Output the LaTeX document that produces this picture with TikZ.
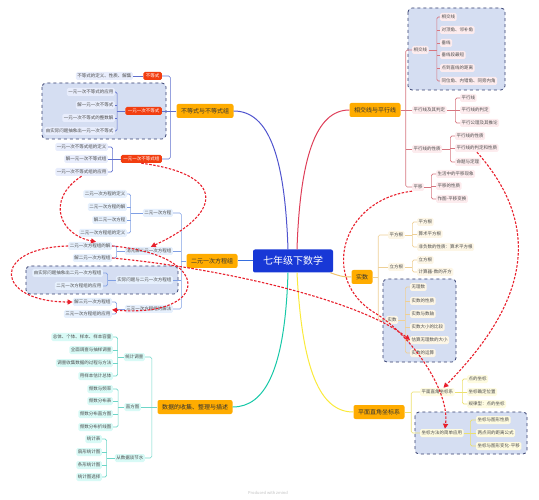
\documentclass[tikz,border=0pt]{standalone}
\usepackage{fontspec}
\setmainfont{Noto Sans CJK SC}
\usetikzlibrary{arrows.meta}
\definecolor{rootblue}{RGB}{24,56,214}
\definecolor{topicorg}{RGB}{255,172,0}
\definecolor{subred}{RGB}{242,62,16}
\definecolor{bdline}{RGB}{96,112,206}
\definecolor{bdfill}{RGB}{232,237,252}
\definecolor{eyline}{RGB}{128,160,228}
\definecolor{eyfill}{RGB}{230,240,253}
\definecolor{sjline}{RGB}{110,214,200}
\definecolor{sjfill}{RGB}{216,250,246}
\definecolor{xjline}{RGB}{214,118,128}
\definecolor{xjfill}{RGB}{253,236,238}
\definecolor{ssline}{RGB}{238,208,150}
\definecolor{ssfill}{RGB}{253,246,230}
\definecolor{zbline}{RGB}{236,224,110}
\definecolor{zbfill}{RGB}{254,251,224}
\definecolor{grpline}{RGB}{52,62,110}
\definecolor{grpfill}{RGB}{213,222,242}
\definecolor{jumpred}{RGB}{232,32,44}
\definecolor{brA}{RGB}{80,84,206}
\definecolor{brB}{RGB}{222,62,88}
\definecolor{brC}{RGB}{54,110,222}
\definecolor{brD}{RGB}{240,196,110}
\definecolor{brE}{RGB}{24,200,168}
\definecolor{brF}{RGB}{250,234,60}
\tikzset{
  rootbox/.style={rectangle, rounded corners=2pt, fill=rootblue, text=white, font=\fontsize{10}{12}\selectfont, minimum width=80pt, minimum height=23pt, inner sep=0pt},
  topic/.style={rectangle, rounded corners=2pt, fill=topicorg, text=black!80, font=\fontsize{6}{7}\selectfont, minimum height=14pt, inner xsep=4.5pt, inner ysep=0pt},
  redsub/.style={rectangle, rounded corners=1.5pt, fill=subred, text=white, font=\fontsize{4.5}{5}\selectfont, minimum height=8pt, inner xsep=2.5pt, inner ysep=0pt},
  leaf/.style={rectangle, rounded corners=1.5pt, text=black!70, font=\fontsize{4.5}{5}\selectfont, minimum height=8pt, inner xsep=1.5pt, inner ysep=0pt},
  bdleaf/.style={leaf, fill=bdfill},
  eyleaf/.style={leaf, fill=eyfill},
  sjleaf/.style={leaf, fill=sjfill},
  xjleaf/.style={leaf, fill=xjfill},
  ssleaf/.style={leaf, fill=ssfill},
  zbleaf/.style={leaf, fill=zbfill},
  grpbox/.style={draw=grpline, fill=grpfill, dashed, line width=0.8pt, rounded corners=4pt},
  bran/.style={line width=1pt},
  lk/.style={line width=0.6pt, rounded corners=1.5pt},
  jump/.style={draw=jumpred, line width=1.1pt, dash pattern=on 2.5pt off 1.5pt, -{Triangle[length=5pt,width=5pt]}}
}
\begin{document}
\begin{tikzpicture}[x=1pt,y=-1pt]
  \useasboundingbox (0,0) rectangle (539,500);

  % dashed groups
  \path[grpbox] (42,83) rectangle (166,139);
  \path[grpbox] (26,266) rectangle (178,294);
  \path[grpbox] (408,8) rectangle (505,90);
  \path[grpbox] (383,279) rectangle (456,362);
  \path[grpbox] (415,412) rectangle (527,454);

  \node[rootbox] (root) at (293,261) {七年级下数学};

  % 不等式与不等式组
  \node[topic] (bdz) at (205,111) {不等式与不等式组};
  \node[redsub, anchor=east] (bd1) at (162,76) {不等式};
  \node[redsub, anchor=east] (bd2) at (162,111) {一元一次不等式};
  \node[redsub, anchor=east] (bd3) at (162,159) {一元一次不等式组};
  \node[bdleaf, anchor=east] (bd11) at (133,76) {不等式的定义、性质、解集};
  \node[bdleaf, anchor=east] (bd21) at (115,92) {一元一次不等式的应用};
  \node[bdleaf, anchor=east] (bd22) at (115,105) {解一元一次不等式};
  \node[bdleaf, anchor=east] (bd23) at (115,118) {一元一次不等式的整数解};
  \node[bdleaf, anchor=east] (bd24) at (115,131) {由实际问题抽象出一元一次不等式};
  \node[bdleaf, anchor=east] (bd31) at (108,147) {一元一次不等式组的定义};
  \node[bdleaf, anchor=east] (bd32) at (108,159) {解一元一次不等式组};
  \node[bdleaf, anchor=east] (bd33) at (108,172) {一元一次不等式组的应用};

  % 二元一次方程组
  \node[topic] (eyz) at (212,261) {二元一次方程组};
  \node[eyleaf, anchor=east] (ey1) at (173,213) {二元一次方程};
  \node[eyleaf, anchor=east] (ey2) at (173,251) {消元解二元一次方程组};
  \node[eyleaf, anchor=east] (ey3) at (173,280) {实际问题与二元一次方程组};
  \node[eyleaf, anchor=east] (ey4) at (173,309) {三元一次方程组的解法};
  \node[eyleaf, anchor=east] (ey11) at (127,194) {二元一次方程的定义};
  \node[eyleaf, anchor=east] (ey12) at (127,207) {二元一次方程的解};
  \node[eyleaf, anchor=east] (ey13) at (127,220) {解二元一次方程};
  \node[eyleaf, anchor=east] (ey14) at (127,233) {二元一次方程组的定义};
  \node[eyleaf, anchor=east] (ey21) at (112,246) {二元一次方程组的解};
  \node[eyleaf, anchor=east] (ey22) at (112,258) {解二元一次方程组};
  \node[eyleaf, anchor=east] (ey31) at (103,273) {由实际问题抽象出二元一次方程组};
  \node[eyleaf, anchor=east] (ey32) at (103,286) {二元一次方程组的应用};
  \node[eyleaf, anchor=east] (ey41) at (112,302) {解三元一次方程组};
  \node[eyleaf, anchor=east] (ey42) at (112,314) {三元一次方程组的应用};

  % 数据的收集、整理与描述
  \node[topic] (sjz) at (195,407) {数据的收集、整理与描述};
  \node[sjleaf, anchor=east] (sj1) at (145,357) {统计调查};
  \node[sjleaf, anchor=east] (sj2) at (141,407) {直方图};
  \node[sjleaf, anchor=east] (sj3) at (145,458) {从数据谈节水};
  \node[sjleaf, anchor=east] (sj11) at (113,337) {总体、个体、样本、样本容量};
  \node[sjleaf, anchor=east] (sj12) at (113,350) {全面调查与抽样调查};
  \node[sjleaf, anchor=east] (sj13) at (113,363) {调查收集数据的过程与方法};
  \node[sjleaf, anchor=east] (sj14) at (113,376) {用样本估计总体};
  \node[sjleaf, anchor=east] (sj21) at (113,389) {频数与频率};
  \node[sjleaf, anchor=east] (sj22) at (113,401) {频数分布表};
  \node[sjleaf, anchor=east] (sj23) at (113,414) {频数分布直方图};
  \node[sjleaf, anchor=east] (sj24) at (113,427) {频数分布折线图};
  \node[sjleaf, anchor=east] (sj31) at (102,439) {统计表};
  \node[sjleaf, anchor=east] (sj32) at (102,452) {扇形统计图};
  \node[sjleaf, anchor=east] (sj33) at (102,465) {条形统计图};
  \node[sjleaf, anchor=east] (sj34) at (102,477) {统计图选择};

  % 相交线与平行线
  \node[topic] (xjz) at (375,110) {相交线与平行线};
  \node[xjleaf, anchor=west] (xj1) at (412,50) {相交线};
  \node[xjleaf, anchor=west] (xj2) at (412,110) {平行线及其判定};
  \node[xjleaf, anchor=west] (xj3) at (412,149) {平行线的性质};
  \node[xjleaf, anchor=west] (xj4) at (412,187) {平移};
  \node[xjleaf, anchor=west] (xj11) at (440,17) {相交线};
  \node[xjleaf, anchor=west] (xj12) at (440,30) {对顶角、邻补角};
  \node[xjleaf, anchor=west] (xj13) at (440,43) {垂线};
  \node[xjleaf, anchor=west] (xj14) at (440,55) {垂线段最短};
  \node[xjleaf, anchor=west] (xj15) at (440,68) {点到直线的距离};
  \node[xjleaf, anchor=west] (xj16) at (440,81) {同位角、内错角、同旁内角};
  \node[xjleaf, anchor=west] (xj21) at (460,98) {平行线};
  \node[xjleaf, anchor=west] (xj22) at (460,110) {平行线的判定};
  \node[xjleaf, anchor=west] (xj23) at (460,123) {平行公理及其推论};
  \node[xjleaf, anchor=west] (xj31) at (455,136) {平行线的性质};
  \node[xjleaf, anchor=west] (xj32) at (455,148) {平行线的判定和性质};
  \node[xjleaf, anchor=west] (xj33) at (455,162) {命题与定理};
  \node[xjleaf, anchor=west] (xj41) at (436,174) {生活中的平移现象};
  \node[xjleaf, anchor=west] (xj42) at (436,186) {平移的性质};
  \node[xjleaf, anchor=west] (xj43) at (436,199) {作图-平移变换};

  % 实数
  \node[topic] (ssz) at (362,277) {实数};
  \node[ssleaf, anchor=west] (ss1) at (388,235) {平方根};
  \node[ssleaf, anchor=west] (ss2) at (388,267) {立方根};
  \node[ssleaf, anchor=west] (ss3) at (386,320) {实数};
  \node[ssleaf, anchor=west] (ss11) at (417,222) {平方根};
  \node[ssleaf, anchor=west] (ss12) at (417,234) {算术平方根};
  \node[ssleaf, anchor=west] (ss13) at (417,247) {非负数的性质：算术平方根};
  \node[ssleaf, anchor=west] (ss21) at (417,260) {立方根};
  \node[ssleaf, anchor=west] (ss22) at (417,272) {计算器-数的开方};
  \node[ssleaf, anchor=west] (ss31) at (410,287) {无理数};
  \node[ssleaf, anchor=west] (ss32) at (410,301) {实数的性质};
  \node[ssleaf, anchor=west] (ss33) at (410,314) {实数与数轴};
  \node[ssleaf, anchor=west] (ss34) at (410,327) {实数大小的比较};
  \node[ssleaf, anchor=west] (ss35) at (410,340) {估算无理数的大小};
  \node[ssleaf, anchor=west] (ss36) at (410,353) {实数的运算};

  % 平面直角坐标系
  \node[topic] (zbz) at (379,412) {平面直角坐标系};
  \node[zbleaf, anchor=west] (zb1) at (420,392) {平面直角坐标系};
  \node[zbleaf, anchor=west] (zb2) at (420,433) {坐标方法的简单应用};
  \node[zbleaf, anchor=west] (zb11) at (467,379) {点的坐标};
  \node[zbleaf, anchor=west] (zb12) at (467,392) {坐标确定位置};
  \node[zbleaf, anchor=west] (zb13) at (467,404) {规律型：点的坐标};
  \node[zbleaf, anchor=west] (zb21) at (476,420) {坐标与图形性质};
  \node[zbleaf, anchor=west] (zb22) at (476,433) {两点间的距离公式};
  \node[zbleaf, anchor=west] (zb23) at (476,446) {坐标与图形变化-平移};

  \node[text=black!25, font=\fontsize{4}{5}\selectfont] (mark) at (268,493) {Produced with zmind};

  % main branches
  \draw[bran, brA] ([xshift=-5pt]root.north) .. controls (285,160) and (270,111) .. (bdz.east);
  \draw[bran, brB] ([xshift=4pt]root.north) .. controls (300,160) and (315,110) .. (xjz.west);
  \draw[bran, brC] (root.west) -- (eyz.east);
  \draw[bran, brD] ([xshift=-3pt]root.south east) .. controls (340,276) and (342,277) .. (ssz.west);
  \draw[bran, brE] ([xshift=-5pt]root.south) .. controls (285,370) and (265,407) .. (sjz.east);
  \draw[bran, brF] ([xshift=4pt]root.south) .. controls (302,370) and (320,412) .. (zbz.west);

  % brackets
  \draw[lk, bdline] (bdz.west) -- ++(-6,0) coordinate (kb0);
  \draw[lk, bdline] (bd1.east) -| (kb0) |- (bd3.east);
  \draw[lk, bdline] (bd2.east) -- (kb0);
  \draw[lk, bdline] (bd11.east) -- (bd1.west);
  \draw[lk, bdline] (bd2.west) -- ++(-8,0) coordinate (kb2);
  \draw[lk, bdline] (bd21.east) -| (kb2) |- (bd24.east);
  \draw[lk, bdline] (bd22.east) -- (bd22.east -| kb2) (bd23.east) -- (bd23.east -| kb2);
  \draw[lk, bdline] (bd3.west) -- ++(-8,0) coordinate (kb3);
  \draw[lk, bdline] (bd31.east) -| (kb3) |- (bd33.east);
  \draw[lk, bdline] (bd32.east) -- (kb3);

  \draw[lk, eyline] (eyz.west) -- ++(-5,0) coordinate (ke0);
  \draw[lk, eyline] (ey1.east) -| (ke0) |- (ey4.east);
  \draw[lk, eyline] (ey2.east) -- (ey2.east -| ke0) (ey3.east) -- (ey3.east -| ke0);
  \draw[lk, eyline] (ey1.west) -- ++(-12,0) coordinate (ke1);
  \draw[lk, eyline] (ey11.east) -| (ke1) |- (ey14.east);
  \draw[lk, eyline] (ey12.east) -- (ey12.east -| ke1) (ey13.east) -- (ey13.east -| ke1);
  \draw[lk, eyline] (ey2.west) -- ++(-8,0) coordinate (ke2);
  \draw[lk, eyline] (ey21.east) -| (ke2) |- (ey22.east);
  \draw[lk, eyline] (ey3.west) -- ++(-8,0) coordinate (ke3);
  \draw[lk, eyline] (ey31.east) -| (ke3) |- (ey32.east);
  \draw[lk, eyline] (ey4.west) -- ++(-8,0) coordinate (ke4);
  \draw[lk, eyline] (ey41.east) -| (ke4) |- (ey42.east);

  \draw[lk, sjline] (sjz.west) -- ++(-5.5,0) coordinate (ks0);
  \draw[lk, sjline] (sj1.east) -| (ks0) |- (sj3.east);
  \draw[lk, sjline] (sj2.east) -- (ks0);
  \draw[lk, sjline] (sj1.west) -- ++(-6,0) coordinate (ks1);
  \draw[lk, sjline] (sj11.east) -| (ks1) |- (sj14.east);
  \draw[lk, sjline] (sj12.east) -- (sj12.east -| ks1) (sj13.east) -- (sj13.east -| ks1);
  \draw[lk, sjline] (sj2.west) -- ++(-6,0) coordinate (ks2);
  \draw[lk, sjline] (sj21.east) -| (ks2) |- (sj24.east);
  \draw[lk, sjline] (sj22.east) -- (sj22.east -| ks2) (sj23.east) -- (sj23.east -| ks2);
  \draw[lk, sjline] (sj3.west) -- ++(-8,0) coordinate (ks3);
  \draw[lk, sjline] (sj31.east) -| (ks3) |- (sj34.east);
  \draw[lk, sjline] (sj32.east) -- (sj32.east -| ks3) (sj33.east) -- (sj33.east -| ks3);

  \draw[lk, xjline] (xjz.east) -- ++(5,0) coordinate (kx0);
  \draw[lk, xjline] (xj1.west) -| (kx0) |- (xj4.west);
  \draw[lk, xjline] (xj2.west) -- (kx0) (xj3.west) -- (xj3.west -| kx0);
  \draw[lk, xjline] (xj1.east) -- ++(8,0) coordinate (kx1);
  \draw[lk, xjline] (xj11.west) -| (kx1) |- (xj16.west);
  \draw[lk, xjline] (xj12.west) -- (xj12.west -| kx1) (xj13.west) -- (xj13.west -| kx1)
    (xj14.west) -- (xj14.west -| kx1) (xj15.west) -- (xj15.west -| kx1);
  \draw[lk, xjline] (xj2.east) -- ++(8.5,0) coordinate (kx2);
  \draw[lk, xjline] (xj21.west) -| (kx2) |- (xj23.west);
  \draw[lk, xjline] (xj22.west) -- (kx2);
  \draw[lk, xjline] (xj3.east) -- ++(8,0) coordinate (kx3);
  \draw[lk, xjline] (xj31.west) -| (kx3) |- (xj33.west);
  \draw[lk, xjline] (xj32.west) -- (xj32.west -| kx3);
  \draw[lk, xjline] (xj4.east) -- ++(7,0) coordinate (kx4);
  \draw[lk, xjline] (xj41.west) -| (kx4) |- (xj43.west);
  \draw[lk, xjline] (xj42.west) -- (xj42.west -| kx4);

  \draw[lk, ssline] (ssz.east) -- ++(5.5,0) coordinate (kr0);
  \draw[lk, ssline] (ss1.west) -| (kr0) |- (ss3.west);
  \draw[lk, ssline] (ss2.west) -- (ss2.west -| kr0);
  \draw[lk, ssline] (ss1.east) -- ++(7.5,0) coordinate (kr1);
  \draw[lk, ssline] (ss11.west) -| (kr1) |- (ss13.west);
  \draw[lk, ssline] (ss12.west) -- (ss12.west -| kr1);
  \draw[lk, ssline] (ss2.east) -- ++(7.5,0) coordinate (kr2);
  \draw[lk, ssline] (ss21.west) -| (kr2) |- (ss22.west);
  \draw[lk, ssline] (ss3.east) -- ++(7,0) coordinate (kr3);
  \draw[lk, ssline] (ss31.west) -| (kr3) |- (ss36.west);
  \draw[lk, ssline] (ss32.west) -- (ss32.west -| kr3) (ss33.west) -- (ss33.west -| kr3)
    (ss34.west) -- (ss34.west -| kr3) (ss35.west) -- (ss35.west -| kr3);

  \draw[lk, zbline] (zbz.east) -- ++(6.5,0) coordinate (kz0);
  \draw[lk, zbline] (zb1.west) -| (kz0) |- (zb2.west);
  \draw[lk, zbline] (zb1.east) -- ++(7.5,0) coordinate (kz1);
  \draw[lk, zbline] (zb11.west) -| (kz1) |- (zb13.west);
  \draw[lk, zbline] (zb12.west) -- (kz1);
  \draw[lk, zbline] (zb2.east) -- ++(6.5,0) coordinate (kz2);
  \draw[lk, zbline] (zb21.west) -| (kz2) |- (zb23.west);
  \draw[lk, zbline] (zb22.west) -- (kz2);

  % red links
  \draw[jump] (bd3.south) .. controls (230,175) and (220,215) .. ([xshift=2pt]ey2.north);
  \draw[jump] (bd33.south) .. controls (45,200) and (60,235) .. ([xshift=6pt]ey21.north);
  \draw[jump] (ey21.west) .. controls (-10,248) and (-5,302) .. (ey41.west);
  \draw[jump] (ey21.east) .. controls (215,255) and (210,318) .. (ey42.north east);
  \draw[jump] (ey22.east) .. controls (220,268) and (360,300) .. (ss35.west);
  \draw[jump] (xj4.south west) .. controls (340,200) and (320,280) .. (375,313)
    .. controls (410,334) and (450,390) .. ([xshift=3pt]zb2.north);
  \draw[jump] (xj32.south) .. controls (555,240) and (510,320) .. ([xshift=6pt]zb1.north);
\end{tikzpicture}
\end{document}
